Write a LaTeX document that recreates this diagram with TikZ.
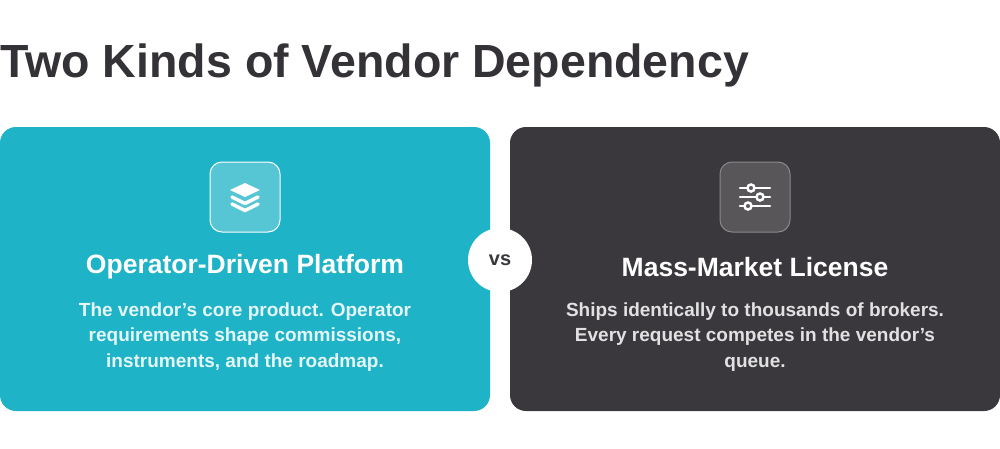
\documentclass[tikz,border=0pt]{standalone}
\usepackage{fontspec}
\setmainfont{Liberation Sans}[Ligatures=NoCommon]
\begin{document}
\begin{tikzpicture}[x=1pt,y=-1pt,
 card/.style={rounded corners=16pt},
 ttl/.style={font=\bfseries\fontsize{26.5}{30}\selectfont, text=white},
 body/.style={font=\bfseries\fontsize{19}{25.5}\selectfont, align=center},
 icon/.style={rounded corners=12pt, minimum size=70pt, draw=white!60, line width=1pt}]
\definecolor{teal}{HTML}{1EB3C6}
\definecolor{dark}{HTML}{3A383C}
\useasboundingbox (0,0) rectangle (1000,448);
\fill[white] (0,0) rectangle (1000,448);
\node[anchor=west, font=\bfseries\fontsize{46.5}{52}\selectfont, text=dark!90!black] (title) at (-3,65) {Two Kinds of Vendor Dependency};
\fill[teal, card] (0,127) rectangle (490,411);
\fill[dark, card] (510,127) rectangle (1000,411);
\node[icon, fill=white!25!teal] (i1) at (245,197) {};
\node[icon, fill=white!15!dark, draw=white!40!dark] (i2) at (755,197) {};
% layers icon
\begin{scope}[shift={(245,197)}, white]
\fill[line join=round] (0,-14) -- (15,-7) -- (0,0) -- (-15,-7) -- cycle;
\draw[line width=3.5pt, line join=round, line cap=round] (-13,0) -- (0,6.5) -- (13,0);
\draw[line width=3.5pt, line join=round, line cap=round] (-13,7) -- (0,13.5) -- (13,7);
\end{scope}
% sliders icon
\begin{scope}[shift={(755,197)}, white, line width=2.5pt, line cap=round]
\draw (-15,-9) -- (15,-9); \draw (-15,0) -- (15,0); \draw (-15,9) -- (15,9);
\filldraw[fill=white!15!dark] (-4,-9) circle (3.5); \filldraw[fill=white!15!dark] (5,0) circle (3.5); \filldraw[fill=white!15!dark] (-7,9) circle (3.5);
\end{scope}
\node[ttl] (t1) at (245,267) {Operator-Driven Platform};
\node[ttl] (t2) at (755,267) {Mass-Market License};
\node[body, text=white!88!teal] (b1) at (245,337) {The vendor’s core product. Operator\\requirements shape commissions,\\instruments, and the roadmap.};
\node[body, text=white!85!dark] (b2) at (755,337) {Ships identically to thousands of brokers.\\Every request competes in the vendor{\char39}s\\queue.};
\node[circle, fill=white, minimum size=64pt, font=\bfseries\fontsize{20}{22}\selectfont, text=dark] (vs) at (500,260) {vs};
\end{tikzpicture}
\end{document}
